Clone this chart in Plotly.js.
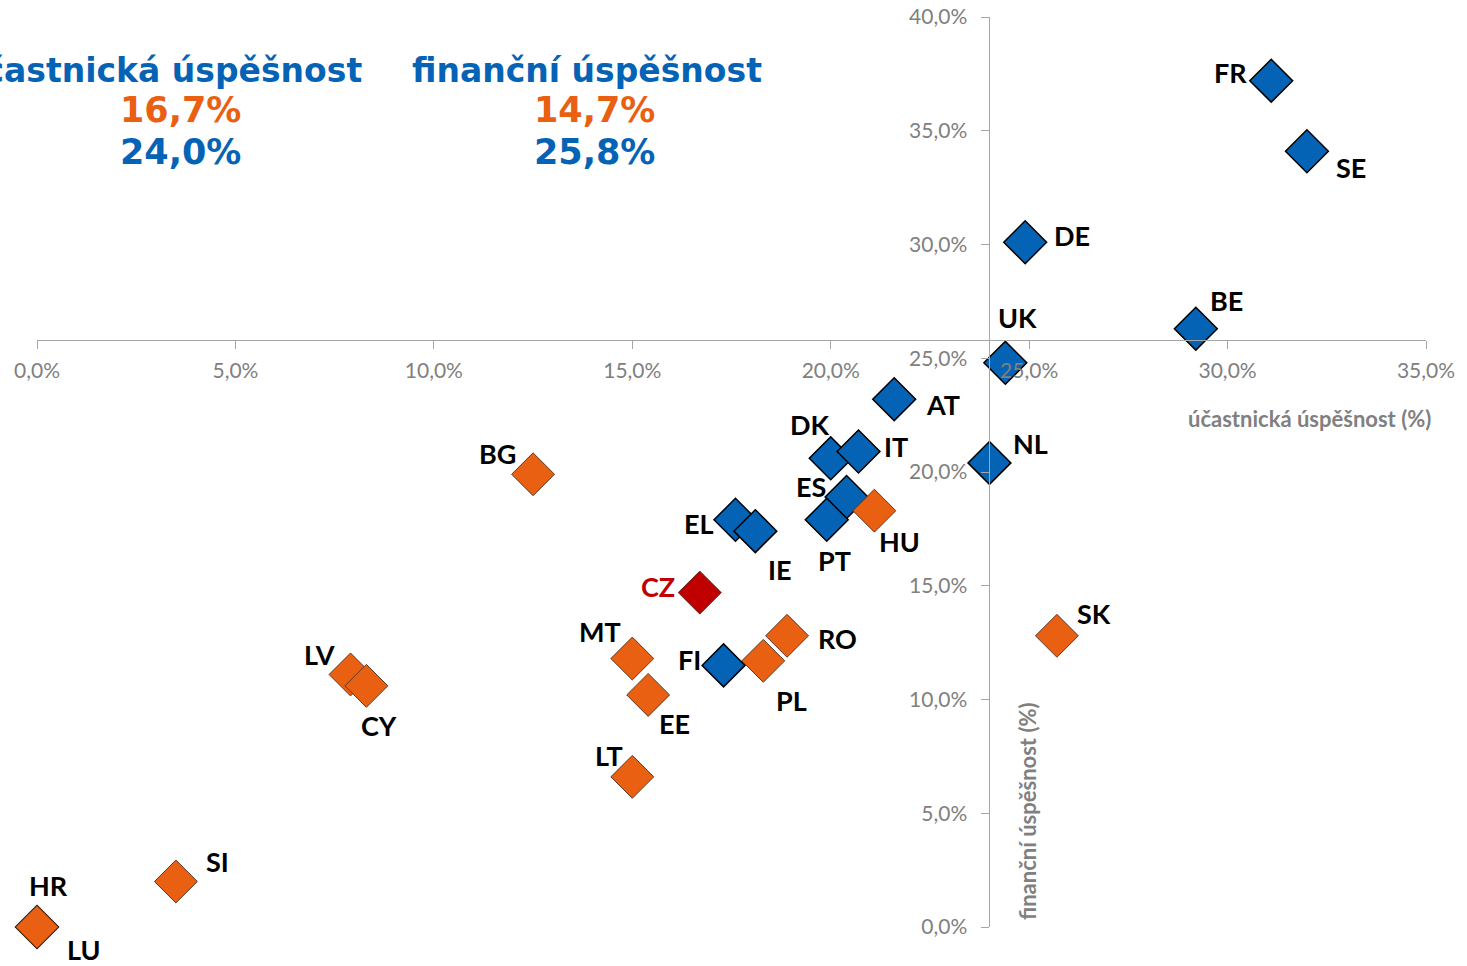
<!DOCTYPE html>
<html><head><meta charset="utf-8">
<script src="https://cdn.plot.ly/plotly-3.0.1.min.js"></script>
<style>html,body{margin:0;padding:0;background:#fff;overflow:hidden}#chart{width:1467px;height:966px}</style>
</head><body><div id="chart"></div>
<script>
// ---- data ----
const blueCountries = ['FR','SE','DE','BE','UK','AT','NL','DK','IT','ES','PT','EL','IE','FI','LU'];
const blueX = [31.1, 32.0, 24.9, 29.2, 24.4, 21.6, 24.0, 20.0, 20.7, 20.4, 19.9, 17.6, 18.1, 17.3, 0.0];
const blueY = [37.2, 34.1, 30.1, 26.3, 24.8, 23.2, 20.4, 20.6, 20.9, 18.9, 17.9, 17.9, 17.4, 11.5, 0.0];
const orangeCountries = ['BG','HU','MT','EE','LT','PL','RO','SK','LV','CY','SI','HR'];
const orangeX = [12.5, 21.1, 15.0, 15.4, 15.0, 18.3, 18.9, 25.7, 7.9, 8.3, 3.5, 0.0];
const orangeY = [19.9, 18.3, 11.8, 10.2, 6.6, 11.7, 12.8, 12.8, 11.1, 10.6, 2.0, 0.0];
const czCountries = ['CZ'];
const czX = [16.7];
const czY = [14.7];
const headers = ['účastnická úspěšnost', 'finanční úspěšnost'];
const czValues = [16.7, 14.7];
const euValues = [24.0, 25.8];
const xTitle = 'účastnická úspěšnost (%)';
const yTitle = 'finanční úspěšnost (%)';
const xRange = [0, 35];
const yRange = [0, 40];

// ---- label placement (pixels) ----
const labelOffset = {
  FR:[-41,8], SE:[44,-16], DE:[47,7], BE:[31,28], UK:[12,45], AT:[49,-5], NL:[41,19],
  DK:[-21,34], IT:[38,5], ES:[-36,11], PT:[8,-41], HU:[25,-31], EL:[-36,-4], IE:[25,-38],
  BG:[-36,21], CZ:[-42,6], MT:[-32,27], FI:[-34,6], PL:[28,-40], RO:[50,-3], EE:[26,-29],
  LT:[-23,21], LV:[-31,20], CY:[13,-40], SK:[37,22], SI:[42,20], HR:[11,42], LU:[47,-22]
};

const BLUE = '#0563B5', ORANGE = '#EA6013', RED = '#C00000';
const fmt = v => v.toFixed(1).replace('.', ',') + '%';

function mk(xs, ys, names, color, lineColor, lineW) {
  return {
    type: 'scatter', mode: 'markers', x: xs, y: ys, text: names, cliponaxis: false,
    hoverinfo: 'text',
    marker: { symbol: 'diamond', size: 33, color: color, line: { color: lineColor, width: lineW } }
  };
}
const traces = [
  mk(blueX, blueY, blueCountries, BLUE, '#000000', 1.5),
  mk(orangeX, orangeY, orangeCountries, ORANGE, '#5a3a2a', 1),
  mk(czX, czY, czCountries, RED, '#5a1a1a', 1)
];

const annotations = [];
function addLabels(names, xs, ys, color) {
  names.forEach((n, i) => {
    const o = labelOffset[n] || [0, 0];
    annotations.push({
      xref: 'x', yref: 'y', x: xs[i], y: ys[i], text: n, showarrow: false,
      xshift: o[0], yshift: o[1], xanchor: 'center', yanchor: 'middle',
      font: { family: 'Lato', size: 27, color: color, weight: 'bold' }
    });
  });
}
addLabels(blueCountries, blueX, blueY, '#000000');
addLabels(orangeCountries, orangeX, orangeY, '#000000');
addLabels(czCountries, czX, czY, RED);

// header block
const hFont = (c, s) => ({ family: 'DejaVu Sans', size: s, color: c, weight: 'bold' });
const px2x = p => (p - 37) / 1389;
const px2y = p => (927 - p) / 910;
annotations.push(
  { xref:'paper', yref:'paper', x:px2x(364), y:px2y(70), xanchor:'right', yanchor:'middle', text:headers[0], showarrow:false, font:hFont(BLUE, 33) },
  { xref:'paper', yref:'paper', x:px2x(587), y:px2y(70), xanchor:'center', yanchor:'middle', text:headers[1], showarrow:false, font:hFont(BLUE, 33) },
  { xref:'paper', yref:'paper', x:px2x(180), y:px2y(110), xanchor:'center', yanchor:'middle', text:fmt(czValues[0]), showarrow:false, font:hFont(ORANGE, 35) },
  { xref:'paper', yref:'paper', x:px2x(594), y:px2y(110), xanchor:'center', yanchor:'middle', text:fmt(czValues[1]), showarrow:false, font:hFont(ORANGE, 35) },
  { xref:'paper', yref:'paper', x:px2x(180), y:px2y(152), xanchor:'center', yanchor:'middle', text:fmt(euValues[0]), showarrow:false, font:hFont(BLUE, 35) },
  { xref:'paper', yref:'paper', x:px2x(594), y:px2y(152), xanchor:'center', yanchor:'middle', text:fmt(euValues[1]), showarrow:false, font:hFont(BLUE, 35) },
  { xref:'paper', yref:'paper', x:px2x(1433), y:px2y(418), xanchor:'right', yanchor:'middle', text:xTitle, showarrow:false,
    font:{ family:'Lato', size:22, color:'#808080', weight:'bold' } },
  { xref:'paper', yref:'paper', x:px2x(1027), y:px2y(811), xanchor:'center', yanchor:'middle', text:yTitle, showarrow:false, textangle:-90,
    font:{ family:'Lato', size:22, color:'#808080', weight:'bold' } }
);

const axisCommon = {
  showgrid: false, zeroline: false, showline: true, linecolor: '#A6A6A6', linewidth: 1,
  ticks: 'outside', ticklen: 8, tickwidth: 1, tickcolor: '#A6A6A6',
  tickformat: '.1f', ticksuffix: '%', dtick: 5, tick0: 0,
  tickfont: { family: 'Lato', size: 21, color: '#808080' },
  anchor: 'free', fixedrange: true
};
const layout = {
  width: 1467, height: 966, separators: ',.',
  margin: { l: 37, r: 41, t: 17, b: 39 },
  paper_bgcolor: '#ffffff', plot_bgcolor: '#ffffff', showlegend: false,
  xaxis: Object.assign({}, axisCommon, { range: xRange, position: euValues[1] / yRange[1], ticklabelstandoff: 4 }),
  yaxis: Object.assign({}, axisCommon, { range: yRange, position: euValues[0] / xRange[1], ticklabelstandoff: 10 }),
  annotations: annotations
};
Plotly.newPlot('chart', traces, layout, { displayModeBar: false, staticPlot: true });
</script></body></html>
